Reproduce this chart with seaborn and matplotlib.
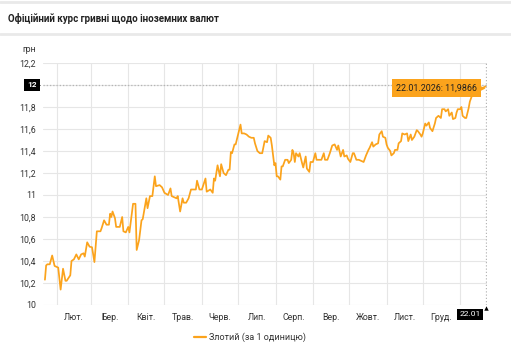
import numpy as np
import pandas as pd
import matplotlib
matplotlib.use("Agg")
import matplotlib.pyplot as plt
import matplotlib.dates as mdates
import matplotlib.transforms as mtransforms
import seaborn as sns

# ---- data: PLN official rate (UAH per 1 zloty), days counted from the start date
start_date = "2025-01-22"
day_offset = [
    0, 1, 2, 4, 6, 8, 11, 12, 13, 15, 17, 18, 21, 22, 24, 26, 28, 30, 32, 33,
    35, 37, 39, 41, 43, 46, 47, 49, 51, 53, 54, 55, 56, 58, 59, 62, 64, 65, 67, 69,
    70, 73, 75, 76, 78, 80, 81, 84, 85, 87, 89, 91, 92, 95, 97, 99, 102, 104, 105, 107,
    109, 110, 112, 114, 115, 117, 119, 121, 123, 125, 126, 128, 130, 133, 134, 137, 139, 140, 141, 143,
    145, 146, 148, 150, 152, 153, 154, 155, 157, 158, 160, 162, 163, 165, 167, 169, 171, 173, 174, 176,
    178, 180, 182, 184, 185, 187, 188, 190, 191, 192, 193, 195, 196, 197, 199, 201, 202, 204, 205, 206,
    207, 208, 210, 211, 213, 214, 215, 216, 217, 219, 220, 222, 224, 225, 227, 229, 231, 232, 234, 236,
    238, 240, 242, 243, 245, 247, 248, 250, 251, 253, 255, 256, 258, 260, 262, 264, 266, 268, 269, 271,
    272, 274, 276, 277, 279, 280, 282, 283, 284, 286, 287, 289, 290, 292, 293, 295, 296, 298, 300, 301,
    303, 304, 306, 308, 309, 311, 312, 313, 315, 316, 318, 319, 321, 323, 324, 326, 328, 329, 331, 332,
    334, 335, 337, 338, 340, 341, 342, 344, 345, 346, 348, 349, 351, 352, 354, 356, 360, 365,
]
rate = [
    10.23, 10.36, 10.37, 10.37, 10.45, 10.355, 10.34, 10.24, 10.14, 10.33, 10.22, 10.22, 10.27, 10.40, 10.415, 10.46, 10.415, 10.46, 10.47, 10.44,
    10.57, 10.53, 10.525, 10.39, 10.67, 10.67, 10.70, 10.77, 10.73, 10.73, 10.83, 10.80, 10.85, 10.79, 10.71, 10.71, 10.80, 10.67, 10.66, 10.71,
    10.66, 10.92, 10.92, 10.50, 10.59, 10.77, 10.78, 10.97, 10.88, 10.99, 10.99, 11.17, 11.08, 11.09, 11.07, 11.02, 11.00, 11.06, 10.99, 10.98,
    10.97, 10.99, 10.85, 10.97, 10.93, 10.93, 10.97, 11.05, 11.05, 11.05, 11.13, 11.05, 11.05, 11.15, 11.03, 11.05, 11.02, 11.15, 11.13, 11.27,
    11.17, 11.28, 11.20, 11.18, 11.23, 11.23, 11.39, 11.38, 11.46, 11.46, 11.55, 11.64, 11.56, 11.56, 11.55, 11.53, 11.52, 11.52, 11.47, 11.40,
    11.38, 11.38, 11.49, 11.48, 11.54, 11.52, 11.45, 11.27, 11.29, 11.17, 11.17, 11.14, 11.26, 11.26, 11.32, 11.32, 11.29, 11.32, 11.41, 11.38,
    11.30, 11.38, 11.35, 11.38, 11.29, 11.25, 11.30, 11.35, 11.24, 11.21, 11.30, 11.30, 11.38, 11.32, 11.32, 11.32, 11.38, 11.32, 11.32, 11.38,
    11.45, 11.46, 11.41, 11.45, 11.35, 11.41, 11.35, 11.36, 11.33, 11.30, 11.38, 11.38, 11.32, 11.32, 11.31, 11.30, 11.36, 11.41, 11.43, 11.48,
    11.44, 11.46, 11.47, 11.55, 11.58, 11.53, 11.52, 11.46, 11.43, 11.40, 11.36, 11.38, 11.41, 11.41, 11.47, 11.49, 11.56, 11.55, 11.56, 11.49,
    11.55, 11.50, 11.53, 11.59, 11.58, 11.55, 11.53, 11.56, 11.65, 11.63, 11.66, 11.61, 11.58, 11.65, 11.70, 11.72, 11.70, 11.78, 11.78, 11.76,
    11.78, 11.72, 11.75, 11.69, 11.70, 11.75, 11.78, 11.78, 11.80, 11.72, 11.70, 11.70, 11.79, 11.85, 11.91, 11.96, 11.96, 11.9866,
]

month_labels = ["Лют.", "Бер.", "Квіт.", "Трав.", "Черв.", "Лип.",
                "Серп.", "Вер.", "Жовт.", "Лист.", "Груд."]
y_ticks = [10, 10.2, 10.4, 10.6, 10.8, 11, 11.2, 11.4, 11.6, 11.8, 12, 12.2]
y_tick_labels = ["10", "10,2", "10,4", "10,6", "10,8", "11", "11,2",
                 "11,4", "11,6", "11,8", "12", "12,2"]
series_label = "Злотий (за 1 одиницю)"
title = "Офіційний курс гривні щодо іноземних валют"
unit_label = "грн"
crosshair_level = 12

ORANGE = "#FBA31C"
GRID = "#e6e6e6"
TEXT = "#333333"

start = pd.Timestamp(start_date)
dates = start + pd.to_timedelta(day_offset, unit="D")
df = pd.DataFrame({"date": dates, "rate": rate})

sns.set_theme(style="white")
plt.rcParams["font.family"] = ["Roboto", "DejaVu Sans"]

W, H = 511, 350
fig = plt.figure(figsize=(W / 100, H / 100), dpi=100)
fig.patch.set_facecolor("white")

# header band
fig.text(8 / W, 1 - 18 / H, title, fontsize=7.0, fontweight="bold",
         color="#222222", ha="left", va="center")
for yy in (1.5, 33.5):
    fig.add_artist(plt.Line2D([0, 1], [1 - yy / H] * 2, color="#e9e9e9",
                              lw=2, transform=fig.transFigure))

ax = fig.add_axes([43 / W, 1 - 305 / H, (487 - 43) / W, (305 - 63) / H])
sns.lineplot(data=df, x="date", y="rate", ax=ax, color=ORANGE, lw=1.25,
             label=series_label, zorder=3)

ax.set_xlim(start - pd.Timedelta(days=1.6), start + pd.Timedelta(days=366.2))
ax.set_ylim(y_ticks[0], y_ticks[-1])
ax.set_xlabel("")
ax.set_ylabel("")

# month boundaries carry the grid, month centres carry the labels
bounds = pd.date_range(start.replace(day=1) + pd.offsets.MonthBegin(1),
                       periods=len(month_labels) + 1, freq="MS")
mids = [a + (b - a) / 2 for a, b in zip(bounds[:-1], bounds[1:])]
ax.set_xticks(bounds)
ax.set_xticklabels([""] * len(bounds))
ax.set_xticks(mids, minor=True)
ax.set_xticklabels(month_labels, minor=True)
ax.tick_params(axis="x", which="both", length=0, pad=6, labelsize=6.3,
               labelcolor=TEXT)
# the crosshair flag shows the value at its own level, so that tick stays blank
ax.set_yticks(y_ticks)
ax.set_yticklabels([("" if v == crosshair_level else lab)
                    for v, lab in zip(y_ticks, y_tick_labels)])
ax.tick_params(axis="y", length=0, pad=5, labelsize=6.3, labelcolor=TEXT)
ax.grid(True, which="major", color=GRID, lw=0.8)
for s in ax.spines.values():
    s.set_visible(False)

fig.text(22 / W, 1 - 50 / H, unit_label, fontsize=6.3, color=TEXT,
         ha="left", va="center")

# crosshair
end_date = dates[-1]
end_num = mdates.date2num(end_date)
end_val = rate[-1]
dots = (0, (1, 1.6))
ax.axhline(crosshair_level, color="#b5b5b5", lw=0.9, ls=dots, zorder=2)
ax.axvline(end_date, color="#b5b5b5", lw=0.9, ls=dots, zorder=2)

# value tooltip
tip = f"{end_date:%d.%m.%Y}: " + f"{end_val:.4f}".replace(".", ",")
ax.annotate(tip, xy=(end_num, end_val), xytext=(-6.2, -1.2),
            textcoords="offset points", ha="right", va="center",
            fontsize=6.4, color="#1f1f1f", zorder=6,
            bbox=dict(boxstyle="square,pad=0.5", fc=ORANGE, ec="none"))
ax.plot([end_num], [end_val], marker=">", ms=4, color=ORANGE, mec="none",
        transform=mtransforms.offset_copy(ax.transData, fig, x=-2.3, y=-1.2,
                                          units="points"),
        zorder=6, clip_on=False)

# axis flags
yflag = mtransforms.blended_transform_factory(ax.transAxes, ax.transData)
ax.annotate(str(crosshair_level), xy=(0, crosshair_level), xycoords=yflag,
            xytext=(-4.5, 0), textcoords="offset points", ha="right",
            va="center", fontsize=6.1, color="white", fontweight="bold",
            zorder=7,
            bbox=dict(boxstyle="square,pad=0.35", fc="black", ec="none"))
ax.plot([0], [crosshair_level], marker=">", ms=3.5, color="black", mec="none",
        transform=mtransforms.offset_copy(yflag, fig, x=-3.3, y=0,
                                          units="points"),
        zorder=7, clip_on=False)

xflag = mtransforms.blended_transform_factory(ax.transData, ax.transAxes)
ax.annotate(f"{end_date:%d.%m}", xy=(end_num, 0), xycoords=xflag,
            xytext=(-3.5, -4.5), textcoords="offset points", ha="right",
            va="top", fontsize=6.1, color="white", zorder=7,
            bbox=dict(boxstyle="square,pad=0.3", fc="black", ec="none"))
ax.plot([end_num], [0], marker="^", ms=3.2, color="black", mec="none",
        transform=mtransforms.offset_copy(xflag, fig, x=0, y=-1.8,
                                          units="points"),
        zorder=7, clip_on=False)

# legend below the plot
leg = ax.legend(loc="center", bbox_to_anchor=(250 / W, 1 - 337 / H),
                bbox_transform=fig.transFigure, frameon=False,
                fontsize=6.5, handlelength=1.3, handletextpad=0.4,
                borderaxespad=0)
for t in leg.get_texts():
    t.set_color(TEXT)
for h in leg.get_lines():
    h.set_linewidth(1.6)

fig.savefig("out.png", dpi=100, facecolor="white")
